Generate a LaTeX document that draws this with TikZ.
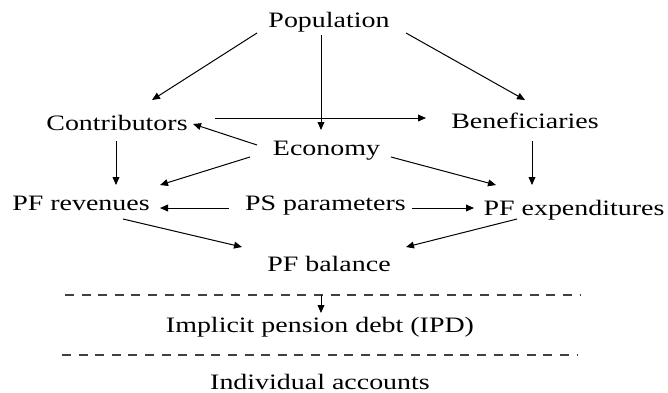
\documentclass[tikz,border=0pt]{standalone}
\usepackage{fontspec}
\setmainfont[FakeStretch=1.27]{Liberation Serif}
\usetikzlibrary{arrows.meta,calc}
\begin{document}
\begin{tikzpicture}[x=0.5pt,y=-0.5pt,
  lbl/.style={anchor=base,inner sep=0pt,font=\fontsize{11}{13}\selectfont},
  arr/.style={line width=0.5pt,-{Triangle[length=4pt,width=3.4pt]}},
  dline/.style={line width=0.7pt,draw=black!75,dash pattern=on 4.5pt off 3.8pt}]
\useasboundingbox (0,0) rectangle (668,392);
\node[lbl] (pop) at (329,27) {Population};
\node[lbl] (con) at (117,130) {Contributors};
\node[lbl] (ben) at (525,128) {Beneficiaries};
\node[lbl] (eco) at (326.5,155) {Economy};
\node[lbl] (rev) at (81,210) {PF revenues};
\node[lbl] (psp) at (325.5,210) {PS parameters};
\node[lbl] (exp) at (574,215) {PF expenditures};
\node[lbl] (bal) at (329,271) {PF balance};
\node[lbl] (ipd) at (320,332) {Implicit pension debt (IPD)};
\node[lbl] (ind) at (320,389) {Individual accounts};
\coordinate (d1l) at (65,295);
\coordinate (d1r) at (581,295);
\coordinate (d2l) at (62,355);
\coordinate (d2r) at (578,355);
\draw[dline] (d1l) -- (d1r);
\draw[dline] (d2l) -- (d2r);
\draw[arr] ($(pop.base)+(-72,6)$) -- ($(con.base)+(35,-30)$);
\draw[arr] ($(pop.base)+(-8,8)$) -- ($(eco.base)+(-5.5,-25)$);
\draw[arr] ($(pop.base)+(77,6)$) -- ($(ben.base)+(0,-28)$);
\draw[arr] ($(con.base)+(98,-12)$) -- ($(ben.base)+(-99,-10)$);
\draw[arr] ($(eco.base)+(-69.5,-10)$) -- ($(con.base)+(76,-6)$);
\draw[arr] ($(con.base)+(-1,11)$) -- ($(rev.base)+(35,-25)$);
\draw[arr] ($(eco.base)+(-76.5,2)$) -- ($(rev.base)+(79,-25)$);
\draw[arr] ($(eco.base)+(64.5,2)$) -- ($(exp.base)+(-78,-30)$);
\draw[arr] ($(ben.base)+(7,13)$) -- ($(exp.base)+(-42,-30)$);
\draw[arr] ($(psp.base)+(-96.5,-2)$) -- ($(rev.base)+(79,-2)$);
\draw[arr] ($(psp.base)+(86.5,-2)$) -- ($(exp.base)+(-100,-7)$);
\draw[arr] ($(rev.base)+(42,9)$) -- ($(bal.base)+(-87,-24)$);
\draw[arr] ($(exp.base)+(-57,4)$) -- ($(bal.base)+(77,-24)$);
\draw[arr] ($(ipd.base)+(1,-37)$) -- ($(ipd.base)+(1,-19)$);
\end{tikzpicture}
\end{document}
